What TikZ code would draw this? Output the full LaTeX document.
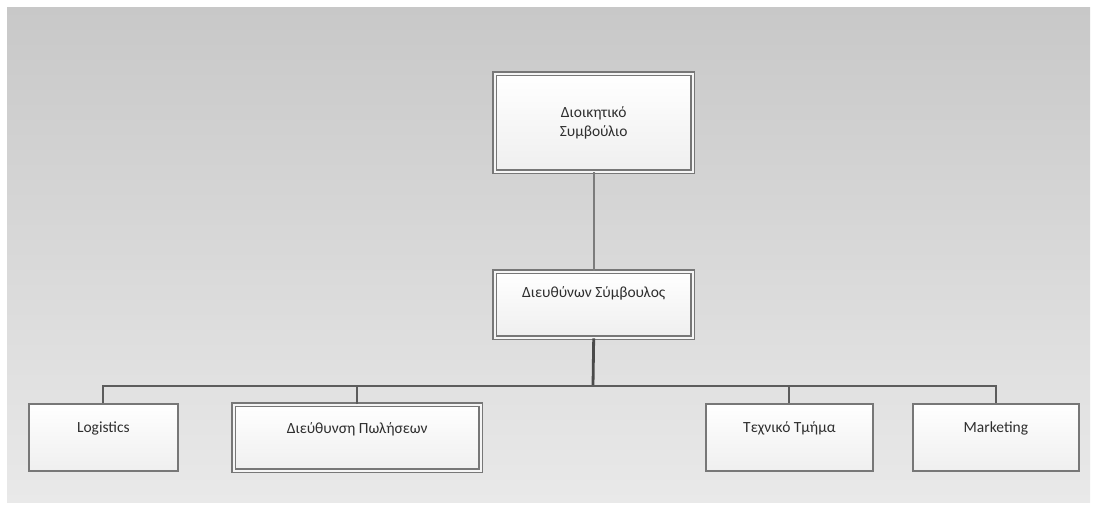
\documentclass[tikz,border=0pt]{standalone}
\usepackage{fontspec}
\setmainfont{Carlito}
\definecolor{panelTop}{HTML}{C8C8C8}
\definecolor{panelBot}{HTML}{E9E9E9}
\definecolor{boxLine}{HTML}{777777}
\definecolor{connLine}{HTML}{5C5C5C}
\definecolor{upLine}{HTML}{7C7C7C}
\definecolor{trunkLine}{HTML}{4A4A4A}
\definecolor{txt}{HTML}{2E2E2E}
\definecolor{boxBot}{HTML}{EFEFEF}
\tikzset{
  box/.style={rectangle, draw=boxLine, line width=1.8pt, top color=white, bottom color=boxBot, inner sep=0pt, anchor=north west},
  dbox/.style={box, line width=1.4pt, double=boxBot!60!white, double distance=2pt},
  lbl/.style={font=\fontsize{15.5}{19.5}\selectfont, text=txt, inner sep=0pt, align=center},
  conn/.style={draw=connLine, line width=2pt},
  upconn/.style={draw=upLine, line width=2.4pt},
  trunk/.style={draw=trunkLine, line width=2.8pt}
}
\begin{document}
\begin{tikzpicture}[x=1pt,y=-1pt]
\useasboundingbox (0,0) rectangle (1098,509);
\fill[white] (0,0) rectangle (1098,509);
\shade[top color=panelTop, bottom color=panelBot] (7,7) rectangle (1090,502);

% boxes
\node[dbox, minimum width=198pt, minimum height=98pt] (board) at (494,73) {};
\node[dbox, minimum width=198pt, minimum height=66pt] (ceo) at (494,271) {};
\node[box, minimum width=149pt, minimum height=67pt] (log) at (28,403) {};
\node[dbox, minimum width=247pt, minimum height=66pt] (sales) at (233,404) {};
\node[box, minimum width=167pt, minimum height=67pt] (tech) at (705,403) {};
\node[box, minimum width=166pt, minimum height=67pt] (mkt) at (912,403) {};

% labels
\node[lbl] (boardt) at (board.center) {Διοικητικό\\Συμβούλιο};
\node[lbl] (ceot) at ([yshift=-22pt]ceo.north) {Διευθύνων Σύμβουλος};
\node[lbl] (logt) at ([yshift=-25pt]log.north) {Logistics};
\node[lbl] (salest) at ([yshift=-25pt]sales.north) {Διεύθυνση Πωλήσεων};
\node[lbl] (techt) at ([yshift=-25pt]tech.north) {Τεχνικό Τμήμα};
\node[lbl] (mktt) at ([yshift=-25pt]mkt.north) {Marketing};

% connectors
\coordinate (busC) at (593,386);
\draw[upconn] (board.south) -- (ceo.north);
\draw[trunk] (ceo.south) -- (busC);
\draw[conn] (log.north) -- (log.north |- busC) -- (mkt.north |- busC) -- (mkt.north);
\draw[conn] (sales.north) -- (sales.north |- busC);
\draw[conn] (tech.north) -- (tech.north |- busC);
\end{tikzpicture}
\end{document}
